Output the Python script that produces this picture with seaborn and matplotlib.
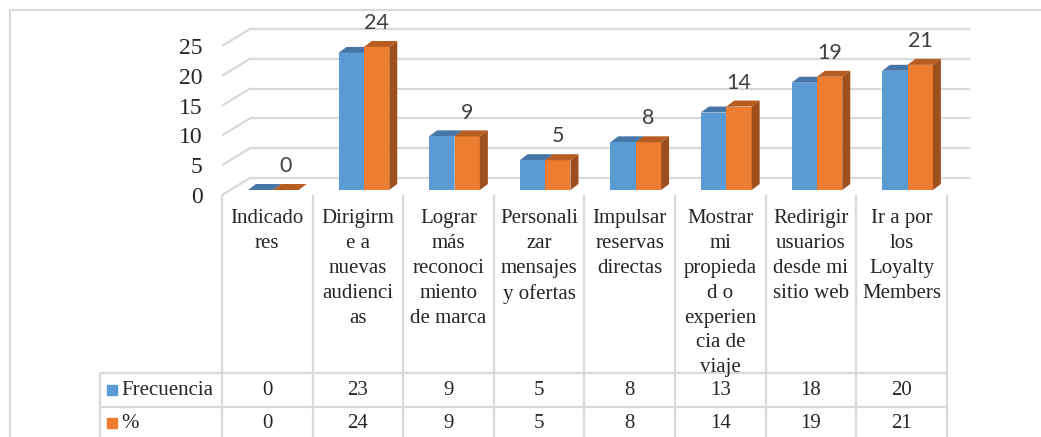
import matplotlib
matplotlib.use('Agg')
import matplotlib.pyplot as plt
import seaborn as sns
import pandas as pd
import numpy as np
from matplotlib.patches import Polygon
from matplotlib.lines import Line2D

# datos
categorias = ['Indicado\nres', 'Dirigirm\ne a\nnuevas\naudienci\nas',
              'Lograr\nmás\nreconoci\nmiento\nde marca',
              'Personali\nzar\nmensajes\ny ofertas', 'Impulsar\nreservas\ndirectas',
              'Mostrar\nmi\npropieda\nd o\nexperien\ncia de\nviaje',
              'Redirigir\nusuarios\ndesde mi\nsitio web', 'Ir a por\nlos\nLoyalty\nMembers']
frecuencia = [0, 23, 9, 5, 8, 13, 18, 20]
porcentaje = [0, 24, 9, 5, 8, 14, 19, 21]
series = ['Frecuencia', '%']
ticks_y = [0, 5, 10, 15, 20, 25]

colores = ['#5b9bd5', '#ed7d31']
tapas = ['#4676a8', '#b75d21']
lados = ['#3f6c99', '#9e4f1d']
gris = '#d9d9d9'

W, H = 1041, 437
def fx(px):
    return px / W
def fy(py):
    return 1 - py / H

# escala: 90.6 px por categoria, 5.96 px por unidad
col_w = 90.6
unit = 5.96
dx, dy = 8 / col_w, 6 / unit          # profundidad de las barras
back_dx0, back_dx1 = (250 - 228) / col_w - 0.5, (969 - 228) / col_w - 0.5
front_x = (222 - 228) / col_w - 0.5
back_off, front_off = 12 / unit, -5 / unit

sns.set_theme(style='white')
plt.rcParams['font.family'] = ['Liberation Serif', 'DejaVu Serif']

fig = plt.figure(figsize=(10.41, 4.37), dpi=100)
ax = fig.add_axes([fx(222), fy(200), fx(980) - fx(222), fy(12) - fy(200)])

df = pd.DataFrame({'cat': categorias * 2,
                   'serie': [series[0]] * 8 + [series[1]] * 8,
                   'valor': frecuencia + porcentaje})
sns.barplot(data=df, x='cat', y='valor', hue='serie', hue_order=series,
            palette=colores, width=0.56, saturation=1, ax=ax, legend=False,
            linewidth=0, zorder=3)

# caras superiores y laterales (efecto 3D)
bars = sorted(ax.patches, key=lambda p: p.get_x())
for k, p in enumerate(bars):
    s = k % 2
    x0, w, h = p.get_x(), p.get_width(), p.get_height()
    x1 = x0 + w
    z = 2 if s == 0 else 4
    ax.add_patch(Polygon([(x0, h), (x1, h), (x1 + dx, h + dy), (x0 + dx, h + dy)],
                         closed=True, color=tapas[s], lw=0, zorder=z))
    ax.add_patch(Polygon([(x1, 0), (x1, h), (x1 + dx, h + dy), (x1 + dx, dy)],
                         closed=True, color=lados[s], lw=0, zorder=z))

# paredes con lineas de cuadricula
for g in ticks_y:
    ax.plot([back_dx0, back_dx1], [g + back_off] * 2, color=gris, lw=1.6, zorder=1)
    ax.plot([front_x, back_dx0], [g + front_off, g + back_off], color=gris, lw=1.6, zorder=1)

for i, v in enumerate(porcentaje):
    ax.text(i + 0.14, v + 4.0, str(v), ha='center', va='center', fontsize=15.5,
            color='#404040', family=['Lato', 'DejaVu Sans'])

ax.set_xlim(front_x, (980 - 228) / col_w - 0.5)
ax.set_ylim(-10 / unit, 178 / unit)
ax.set_xticks([])
ax.set_yticks([g + front_off for g in ticks_y], labels=[str(g) for g in ticks_y])
ax.tick_params(axis='y', length=0, pad=14, labelsize=17)
ax.set_xlabel('')
ax.set_ylabel('')
sns.despine(ax=ax, left=True, bottom=True)

# tabla de datos
tax = fig.add_axes([0, fy(437), 1, fy(190) - fy(437)])
tax.set_xlim((0 - 222) / col_w - 0.5, (W - 222) / col_w - 0.5)
tax.set_ylim(437, 190)
tax.axis('off')
tax.patch.set_visible(False)

n = len(categorias)
edges = np.arange(n + 1) - 0.5
xl = (100 - 222) / col_w - 0.5
tax.vlines(edges, 195, 437, color=gris, lw=1.6)
tax.vlines([xl], 373, 437, color=gris, lw=1.6)
tax.hlines([373, 407], xl, edges[-1], color=gris, lw=1.6)

for i, c in enumerate(categorias):
    tax.text(i, 209, c, ha='center', va='top', fontsize=15, linespacing=1.42)
for row, vals in zip([390, 423], [frecuencia, porcentaje]):
    for i, v in enumerate(vals):
        tax.text(i, row, str(v), ha='center', va='center', fontsize=15)

xsq = (111.5 - 222) / col_w - 0.5
xtx = (121 - 222) / col_w - 0.5
for row, s, col in zip([390, 423], series, colores):
    tax.plot([xsq], [row], marker='s', ms=7.8, color=col, ls='')
    tax.text(xtx, row, s, ha='left', va='center', fontsize=15)

# borde exterior
fig.add_artist(Line2D([fx(10), fx(10)], [fy(10), 0], transform=fig.transFigure, color=gris, lw=1.5))
fig.add_artist(Line2D([fx(10), 1], [fy(10), fy(10)], transform=fig.transFigure, color=gris, lw=1.5))

fig.savefig('out.png', dpi=100)
